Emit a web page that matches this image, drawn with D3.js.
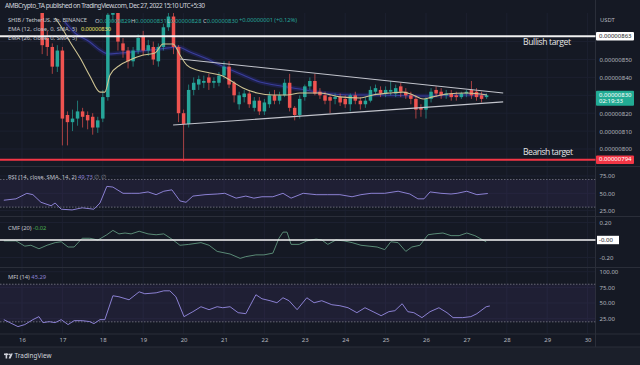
<!DOCTYPE html>
<html><head><meta charset="utf-8">
<script src="https://cdn.jsdelivr.net/npm/d3@7"></script>
<style>html,body{margin:0;padding:0;background:#151924;overflow:hidden}svg{display:block}</style>
</head><body><svg id="c" width="640" height="365"></svg>
<script>
// ---------- DATA (prices in units of 1e-8 USDT, times in days of Dec 2022) ----------
const priceUnit = 1e-8;
const firstCandleTime = 16.5;     // Dec 16, 12:00
const candleStep = 0.125;         // 3h candles
const opens  = [876,862,857,846,855,819,815,817,821,819,818,812,817,829,875,877,859,855,849,855,863,855,857,849,857,868,874,857,820,814,833,836,837,840,837,837,841,846,837,825,829,831,823,827,821,825,830,827,830,837,823,819,829,835,838,832,830,829,828,829,828,825,830,827,825,827,832,833,831,832,831,835,832,830,828,823,822,828,833,832,830,831,830,829,831,833,832,830,829];
const highs  = [881,866,859,858,857,821,822,827,823,821,820,818,833,878,884,880,862,857,857,864,866,861,860,859,870,880,877,858,822,836,840,841,841,842,840,843,849,849,838,832,833,833,829,829,828,832,833,832,839,842,824,830,836,840,842,834,832,830,831,831,830,831,832,829,829,835,836,835,835,838,836,837,834,832,830,825,829,834,835,834,833,833,832,832,833,838,834,832,831];
const lows   = [853,852,842,843,802,802,810,813,812,811,808,809,815,827,871,855,851,845,846,853,852,852,847,846,855,866,853,815,793,812,830,833,834,833,834,835,839,834,826,822,826,823,821,819,819,823,825,825,829,821,816,817,827,833,830,828,825,820,825,824,823,821,825,822,823,826,830,829,829,830,829,829,828,825,817,818,817,826,829,828,828,827,827,828,829,828,827,826,828];
const closes = [858,857,846,855,817,815,817,821,818,816,812,816,829,875,879,860,855,849,855,862,855,858,850,857,868,874,857,820,814,833,837,839,838,837,838,841,846,836,830,830,831,825,827,821,826,830,827,830,837,823,819,828,835,838,831,830,827,827,829,826,825,830,827,825,827,833,834,831,833,833,834,832,830,828,822,822,828,832,831,830,831,829,829,831,832,830,829,828,830];

const ema12Times  = [16.82,16.99,17.19,17.44,17.68,17.93,18.05,18.18,18.43,18.67,19.00,19.29,19.49,19.74,19.91,20.08,20.33,20.65,20.97,21.22,21.47,21.82,22.21,22.56,22.88,23.38,23.87,24.37,24.69,25.11,25.43,25.68,25.93,26.17,26.52,27.01,27.51];
const ema12Values = [873.2,867.6,859.8,850.8,840.8,831.8,831.8,841.3,846.9,849.7,852.5,853.6,858.7,858.7,852.5,846.9,844.1,842.5,840.8,837.4,834.1,831.3,830.2,830.2,831.3,831.3,829.1,828.5,830.2,831.3,831.8,830.2,827.9,829.1,830.7,831.3,830.2];
const ema26Times  = [17.06,17.31,17.68,17.93,18.13,18.43,18.92,19.42,19.86,20.16,20.53,20.90,21.47,21.89,22.26,22.88,23.45,24.12,24.86,25.85,26.84,27.51];
const ema26Values = [871.0,864.8,859.8,855.3,853.1,853.6,854.7,855.9,857.0,854.2,850.8,846.9,841.3,837.4,835.8,833.5,831.3,830.2,830.2,829.6,830.2,830.2];

const trendUpperTimes = [19.91,27.91], trendUpperPrices = [850.3,831.3];
const trendLowerTimes = [19.74,27.91], trendLowerPrices = [813.4,826.3];
const bullishTarget = 863, bearishTarget = 794, lastPrice = 830;
const priceTicks = [800,810,820,840,850];

const rsiTimes  = [15.55,15.85,16.12,16.27,16.47,16.72,16.82,16.97,17.24,17.49,17.78,17.93,18.10,18.25,18.50,18.70,18.90,19.12,19.32,19.51,19.71,19.91,20.06,20.23,20.53,20.83,21.02,21.30,21.54,21.74,21.94,22.21,22.46,22.66,22.96,23.28,23.57,23.87,24.17,24.39,24.64,24.98,25.31,25.60,25.80,25.95,26.10,26.37,26.62,26.77,27.01,27.26,27.53];
const rsiValues = [40,42,50,48,37,32,36,27,26,29,27,36,60,59,50,50,50,52,48,53,55,39,37,46,48,49,50,43,46,43,45,45,50,43,50,48,48,48,45,48,50,50,53,49,42,42,52,50,49,50,53,48,49.73];
const rsiTicks = [25,50,75];

const cmfTimes  = [15.55,15.85,16.07,16.22,16.42,16.62,16.82,16.97,17.14,17.29,17.49,17.68,17.88,18.10,18.25,18.40,18.55,18.70,18.90,19.12,19.32,19.51,19.71,19.91,20.13,20.43,20.63,20.83,21.15,21.40,21.54,21.79,21.99,22.21,22.36,22.46,22.56,22.66,22.86,23.05,23.28,23.42,23.57,23.77,23.97,24.17,24.39,24.59,24.79,24.98,25.13,25.31,25.50,25.65,25.85,26.05,26.20,26.42,26.62,26.82,27.01,27.21,27.49];
const cmfValues = [-0.01,-0.01,-0.07,-0.06,-0.10,-0.06,-0.03,-0.02,-0.08,-0.08,0.02,0.02,0.00,0.06,0.11,0.07,0.08,0.07,0.10,0.07,0.06,0.07,0.01,-0.06,-0.05,-0.03,-0.06,-0.13,-0.16,-0.21,-0.19,-0.17,-0.17,-0.15,0.02,0.09,0.09,-0.05,-0.05,-0.01,0.01,0.00,-0.05,0.00,-0.01,-0.03,-0.06,-0.07,-0.08,-0.11,-0.02,-0.03,-0.13,-0.08,-0.06,0.06,0.07,0.08,0.05,0.05,0.08,0.05,-0.02];
const cmfTicks = [-0.2,0.2];

const mfiTimes  = [15.55,15.70,15.90,16.07,16.27,16.42,16.52,16.67,16.82,16.97,17.14,17.29,17.49,17.68,17.78,17.93,18.05,18.25,18.40,18.65,18.90,19.04,19.32,19.51,19.66,19.81,20.01,20.23,20.43,20.63,20.83,20.97,21.15,21.35,21.54,21.79,21.94,22.14,22.31,22.46,22.61,22.81,23.05,23.23,23.42,23.67,23.87,24.07,24.29,24.49,24.69,24.89,25.08,25.23,25.41,25.55,25.70,25.90,26.10,26.32,26.52,26.67,26.91,27.11,27.26,27.49,27.58];
const mfiValues = [23.5,18.7,12.4,15.6,23.5,28.3,18.7,20.3,18.7,23.5,15.6,21.9,21.9,20.3,17.1,23.5,23.5,61.6,60,55.2,67.9,64.8,66.3,69.5,69.5,60,28.3,36.2,44.1,39.4,44.1,42.5,44.1,34.6,33,63.2,56.8,53.7,50.5,58.4,53.7,39.4,58.4,50.5,53.7,47.3,45.7,42.5,34.6,42.5,36.2,29.8,36.2,37.8,48.9,36.2,34.6,26.7,36.2,42.5,34.6,26.7,26.7,28.3,33,44.1,45.29];
const mfiTicks = [25,50,75,100];

const dayTicks = [16,17,18,19,20,21,22,23,24,25,26,27,28,29,30];

// ---------- LAYOUT ----------
const W = 640, H = 365, plotRight = 595.5;
const FONT = "'Noto Sans','Open Sans',sans-serif";
const svg = d3.select('#c');
const GREEN = '#26a69a', RED = '#ef5350', TXT = '#b2b5be', GRID = '#1c2030', SEP = '#2a2e39';

const x = d3.scaleLinear().domain([16, 30]).range([22, 587.6]);
const yP = d3.scaleLinear().domain([800, 850]).range([149, 59.5]);
const yR = d3.scaleLinear().domain([25, 75]).range([210.6, 176]);
const yC = d3.scaleLinear().domain([-0.2, 0.2]).range([257.5, 222.5]);
const yM = d3.scaleLinear().domain([25, 100]).range([318.7, 271.7]);

const panes = [
  {top: 13, bot: 166.5, id: 'main'},
  {top: 166.5, bot: 216.5, id: 'rsi'},
  {top: 216.5, bot: 267.5, id: 'cmf'},
  {top: 267.5, bot: 334, id: 'mfi'}
];
const defs = svg.append('defs');
panes.forEach(p => defs.append('clipPath').attr('id', 'clip-' + p.id)
  .append('rect').attr('x', 0).attr('y', p.top).attr('width', plotRight).attr('height', p.bot - p.top));

svg.append('rect').attr('width', W).attr('height', H).attr('fill', '#151924');
svg.append('rect').attr('y', 347).attr('width', W).attr('height', 18).attr('fill', '#1b1f2a');

// grid
const grid = svg.append('g');
grid.selectAll('line.v').data(dayTicks).join('line')
  .attr('x1', d => x(d)).attr('x2', d => x(d)).attr('y1', 13).attr('y2', 334)
  .attr('stroke', GRID).attr('stroke-width', 1);
grid.selectAll('line.hp').data(priceTicks.concat([830, 860])).join('line')
  .attr('x1', 0).attr('x2', plotRight).attr('y1', d => yP(d)).attr('y2', d => yP(d))
  .attr('stroke', GRID);
[[yR, rsiTicks],[yC, cmfTicks.concat([0])],[yM, mfiTicks]].forEach(([s, t]) => {
  grid.append('g').selectAll('line').data(t).join('line')
    .attr('x1', 0).attr('x2', plotRight).attr('y1', d => s(d)).attr('y2', d => s(d)).attr('stroke', GRID);
});

// pane separators
svg.append('g').selectAll('line').data([166.5, 216.5, 267.5, 334, 347]).join('line')
  .attr('x1', 0).attr('x2', W).attr('y1', d => d).attr('y2', d => d).attr('stroke', SEP);
svg.append('line').attr('x1', plotRight).attr('x2', plotRight).attr('y1', 0).attr('y2', 347).attr('stroke', SEP);

// ---------- MAIN PANE ----------
const main = svg.append('g').attr('clip-path', 'url(#clip-main)');
const candles = opens.map((o, i) => ({t: firstCandleTime + i * candleStep, o, h: highs[i], l: lows[i], c: closes[i]}));

// EMA 26 (blue band)
const lineP = (ts, vs, curve) => d3.line().x(d => x(d[0])).y(d => yP(d[1])).curve(curve || d3.curveMonotoneX)(ts.map((t, i) => [t, vs[i]]));
main.append('path').attr('d', lineP(ema26Times, ema26Values)).attr('fill', 'none')
  .attr('stroke', '#2b2b80').attr('stroke-opacity', 0.4).attr('stroke-width', 4.5);
main.append('path').attr('d', lineP(ema26Times, ema26Values)).attr('fill', 'none')
  .attr('stroke', '#4348b8').attr('stroke-opacity', 0.75).attr('stroke-width', 1.1);

// candles
const cw = 3.5;
const cg = main.append('g');
cg.selectAll('line').data(candles).join('line')
  .attr('x1', d => x(d.t)).attr('x2', d => x(d.t))
  .attr('y1', d => yP(d.h)).attr('y2', d => yP(d.l))
  .attr('stroke', d => d.c >= d.o ? GREEN : RED).attr('stroke-width', 0.9).attr('stroke-opacity', 0.75);
cg.selectAll('rect').data(candles).join('rect')
  .attr('x', d => x(d.t) - cw / 2).attr('width', cw)
  .attr('y', d => yP(Math.max(d.o, d.c)))
  .attr('height', d => Math.max(1, Math.abs(yP(d.o) - yP(d.c))))
  .attr('fill', d => d.c >= d.o ? GREEN : RED);

// EMA 12
main.append('path').attr('d', lineP(ema12Times, ema12Values)).attr('fill', 'none')
  .attr('stroke', '#cfc493').attr('stroke-width', 1.1);

// triangle trendlines
main.append('path').attr('d', lineP(trendUpperTimes, trendUpperPrices, d3.curveLinear))
  .attr('stroke', '#c2c4cc').attr('stroke-width', 1.1).attr('fill', 'none');
main.append('path').attr('d', lineP(trendLowerTimes, trendLowerPrices, d3.curveLinear))
  .attr('stroke', '#c2c4cc').attr('stroke-width', 1.1).attr('fill', 'none');

// target lines
svg.append('line').attr('x1', 0).attr('x2', plotRight).attr('y1', yP(bullishTarget)).attr('y2', yP(bullishTarget))
  .attr('stroke', '#f0f0f0').attr('stroke-width', 1.8);
svg.append('line').attr('x1', 0).attr('x2', plotRight).attr('y1', yP(bearishTarget)).attr('y2', yP(bearishTarget))
  .attr('stroke', '#f23645').attr('stroke-width', 1.8);
svg.append('text').attr('x', 523).attr('y', yP(bullishTarget) + 6.5).attr('dominant-baseline', 'middle')
  .attr('font-family', "'Open Sans',sans-serif").attr('font-size', 8.6).attr('fill', '#e6e6e6')
  .attr('textLength', 48).text('Bullish target');
svg.append('text').attr('x', 523).attr('y', yP(bearishTarget) - 7.5).attr('dominant-baseline', 'middle')
  .attr('font-family', "'Open Sans',sans-serif").attr('font-size', 8.6).attr('fill', '#e6e6e6')
  .attr('textLength', 50).text('Bearish target');

// price axis
const fmtP = d => (d * priceUnit).toFixed(8);
const pAxis = svg.append('g').attr('transform', `translate(${plotRight},0)`)
  .call(d3.axisRight(yP).tickValues(priceTicks).tickSize(0).tickPadding(4).tickFormat(fmtP));
pAxis.select('.domain').remove();
pAxis.selectAll('text').attr('font-family', FONT).attr('font-size', 6).attr('fill', TXT);
svg.append('text').attr('x', 600).attr('y', 20).attr('dominant-baseline', 'middle')
  .attr('font-family', FONT).attr('font-size', 5.8).attr('fill', TXT).text('USDT');

function tag(y, h, fill, color, lines) {
  const g = svg.append('g');
  g.append('rect').attr('x', 596).attr('y', y).attr('width', 38).attr('height', h).attr('rx', 1).attr('fill', fill);
  lines.forEach((s, i) => g.append('text').attr('x', 599).attr('y', y + 4.2 + i * 6.6)
    .attr('dominant-baseline', 'middle').attr('font-family', FONT).attr('font-size', 6).attr('fill', color).text(s));
}
tag(yP(bullishTarget) - 4.2, 8.4, '#ffffff', '#131722', [fmtP(bullishTarget)]);
tag(yP(lastPrice) - 4.5, 15, '#22ab94', '#ffffff', [fmtP(lastPrice), '02:19:33']);
tag(yP(bearishTarget) - 4.2, 8.4, '#f23645', '#ffffff', [fmtP(bearishTarget)]);

// header
const hdr = svg.append('g').attr('font-family', FONT);
hdr.append('text').attr('x', 5).attr('y', 6.5).attr('dominant-baseline', 'middle').attr('font-size', 6.6)
  .attr('fill', '#d1d4dc').attr('textLength', 200).text('AMBCrypto_TA published on TradingView.com, Dec 27, 2022 15:10 UTC+5:30');
hdr.append('text').attr('x', 8).attr('y', 20.5).attr('dominant-baseline', 'middle').attr('font-size', 5.8)
  .attr('fill', '#c3c6ce').attr('textLength', 79).text('SHIB / TetherUS, 3h, BINANCE');
[['O', '0.00000829', 95], ['H', '0.00000831', 131], ['L', '0.00000828', 167], ['C', '0.00000830', 203]].forEach(([k, v, px]) => {
  const t = hdr.append('text').attr('x', px).attr('y', 20.5).attr('dominant-baseline', 'middle').attr('font-size', 5.8);
  t.append('tspan').attr('fill', '#c3c6ce').text(k);
  t.append('tspan').attr('fill', GREEN).text(v);
});
hdr.append('text').attr('x', 239).attr('y', 20.5).attr('dominant-baseline', 'middle').attr('font-size', 5.8)
  .attr('fill', GREEN).attr('textLength', 58).text('+0.00000001 (+0.12%)');
hdr.append('text').attr('x', 8).attr('y', 29.5).attr('dominant-baseline', 'middle').attr('font-size', 5.8)
  .attr('fill', '#c3c6ce').attr('textLength', 69).text('EMA (12, close, 0, SMA, 5)');
hdr.append('text').attr('x', 81).attr('y', 29.5).attr('dominant-baseline', 'middle').attr('font-size', 5.8)
  .attr('fill', '#ece36a').attr('textLength', 30).text('0.00000830');
hdr.append('text').attr('x', 8).attr('y', 38.5).attr('dominant-baseline', 'middle').attr('font-size', 5.8)
  .attr('fill', '#c3c6ce').attr('textLength', 69).text('EMA (26, close, 0, SMA, 5)');

// ---------- INDICATORS ----------
function indicator(id, scale, times, values, color, band, ticks, fmt) {
  const g = svg.append('g').attr('clip-path', `url(#clip-${id})`);
  if (band) {
    g.append('rect').attr('x', 0).attr('width', plotRight).attr('y', scale(band[1]))
      .attr('height', scale(band[0]) - scale(band[1])).attr('fill', '#7e57c2').attr('fill-opacity', 0.1);
    band.forEach(b => g.append('line').attr('x1', 0).attr('x2', plotRight).attr('y1', scale(b)).attr('y2', scale(b))
      .attr('stroke', '#787b86').attr('stroke-dasharray', '1.5,1.5').attr('stroke-width', 0.8));
  }
  g.append('path').attr('fill', 'none').attr('stroke', color).attr('stroke-width', 1)
    .attr('d', d3.line().x(d => x(d[0])).y(d => scale(d[1]))(times.map((t, i) => [t, values[i]])));
  const ax = svg.append('g').attr('transform', `translate(${plotRight},0)`)
    .call(d3.axisRight(scale).tickValues(ticks).tickSize(0).tickPadding(4).tickFormat(fmt));
  ax.select('.domain').remove();
  ax.selectAll('text').attr('font-family', FONT).attr('font-size', 6).attr('fill', TXT);
  return g;
}
indicator('rsi', yR, rsiTimes, rsiValues, '#8b80d2', [30, 70], rsiTicks, d => d.toFixed(2));
indicator('cmf', yC, cmfTimes, cmfValues, '#5a8a76', null, cmfTicks, d => d.toFixed(2));
svg.append('line').attr('x1', 0).attr('x2', plotRight).attr('y1', yC(0)).attr('y2', yC(0))
  .attr('stroke', '#f5f5f5').attr('stroke-width', 1.6);
svg.append('rect').attr('x', 597).attr('y', yC(0) - 4.2).attr('width', 22).attr('height', 8.4).attr('fill', '#ffffff');
svg.append('text').attr('x', 599).attr('y', yC(0)).attr('dominant-baseline', 'middle').attr('font-family', FONT)
  .attr('font-size', 6).attr('fill', '#131722').text('-0.00');
indicator('mfi', yM, mfiTimes, mfiValues, '#8b80d2', [20, 80], mfiTicks, d => d.toFixed(2));

// indicator legends
function legend(y, parts) {
  const t = svg.append('text').attr('x', 8).attr('y', y).attr('dominant-baseline', 'middle')
    .attr('font-family', FONT).attr('font-size', 5.8);
  parts.forEach(([s, c]) => t.append('tspan').attr('fill', c).text(s));
}
legend(177, [['RSI (14, close, SMA, 14, 2)  ', '#c3c6ce'], ['49.73', '#8b80d2'], ['  ∅  ∅', '#8a8d96']]);
legend(227.5, [['CMF (20)  ', '#c3c6ce'], ['-0.02', '#4caf50']]);
legend(277, [['MFI (14)  ', '#c3c6ce'], ['45.29', '#8b80d2']]);

// time axis
const tAxis = svg.append('g').attr('transform', 'translate(0,335)')
  .call(d3.axisBottom(x).tickValues(dayTicks).tickSize(0).tickPadding(3).tickFormat(d => d));
tAxis.select('.domain').remove();
tAxis.selectAll('text').attr('font-family', FONT).attr('font-size', 6).attr('fill', TXT);

// footer logo
const ft = svg.append('g');
ft.append('rect').attr('x', 4).attr('y', 353.5).attr('width', 4).attr('height', 1.6).attr('fill', '#d1d4dc');
ft.append('rect').attr('x', 5.6).attr('y', 353.5).attr('width', 1.6).attr('height', 5).attr('fill', '#d1d4dc');
ft.append('circle').attr('cx', 9.2).attr('cy', 354.3).attr('r', 0.9).attr('fill', '#d1d4dc');
ft.append('path').attr('d', 'M10.6,353.5 L12.8,353.5 L10.6,358.5 L8.6,358.5 Z').attr('fill', '#d1d4dc');
ft.append('text').attr('x', 14.5).attr('y', 356.5).attr('dominant-baseline', 'middle').attr('font-family', FONT)
  .attr('font-size', 6.4).attr('fill', '#d1d4dc').attr('textLength', 37).text('TradingView');
</script></body></html>
